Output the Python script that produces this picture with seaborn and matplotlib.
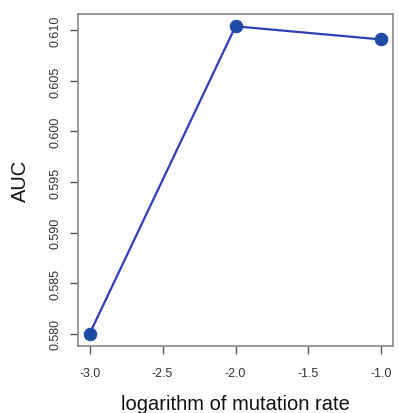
import matplotlib
matplotlib.use("Agg")
import matplotlib.pyplot as plt
import seaborn as sns
import pandas as pd

log_rate = [-3.0, -2.0, -1.0]
auc = [0.5800, 0.6104, 0.6091]
xticks = [-3.0, -2.5, -2.0, -1.5, -1.0]
yticks = [0.580, 0.585, 0.590, 0.595, 0.600, 0.605, 0.610]

df = pd.DataFrame({"log_rate": log_rate, "auc": auc})

sns.set_theme(style="white")
plt.rcParams['font.family'] = ['Liberation Sans', 'DejaVu Sans']

fig = plt.figure(figsize=(3.99, 4.14), dpi=100)
ax = fig.add_axes([0.1955, 0.1618, 0.985 - 0.1955, 0.9638 - 0.1618])

sns.lineplot(data=df, x="log_rate", y="auc", ax=ax, color="#2f3fb5", linewidth=1.6,
             marker="o", markersize=9, markerfacecolor="#1f4aa6", markeredgecolor="#1f4aa6")

ax.set_xlim(-3.08, -0.92)
ax.set_ylim(0.57878, 0.61162)
ax.set_xticks(xticks)
ax.set_xticklabels([f"{t:.1f}" for t in xticks])
ax.set_yticks(yticks)
ax.set_yticklabels([f"{t:.3f}" for t in yticks], rotation=90, va="center")
ax.tick_params(axis="both", which="both", direction="out", length=6, width=1,
               color="#555555", labelsize=9, labelcolor="#333333", pad=6,
               bottom=True, left=True)
ax.tick_params(axis="x", pad=9)
for s in ax.spines.values():
    s.set_color("#888888")
    s.set_linewidth(1.2)
ax.set_xlabel("logarithm of mutation rate", fontsize=14.5, color="#111111", labelpad=11)
ax.set_ylabel("AUC", fontsize=14.5, color="#111111", labelpad=14)

fig.savefig("out.png", dpi=100)
